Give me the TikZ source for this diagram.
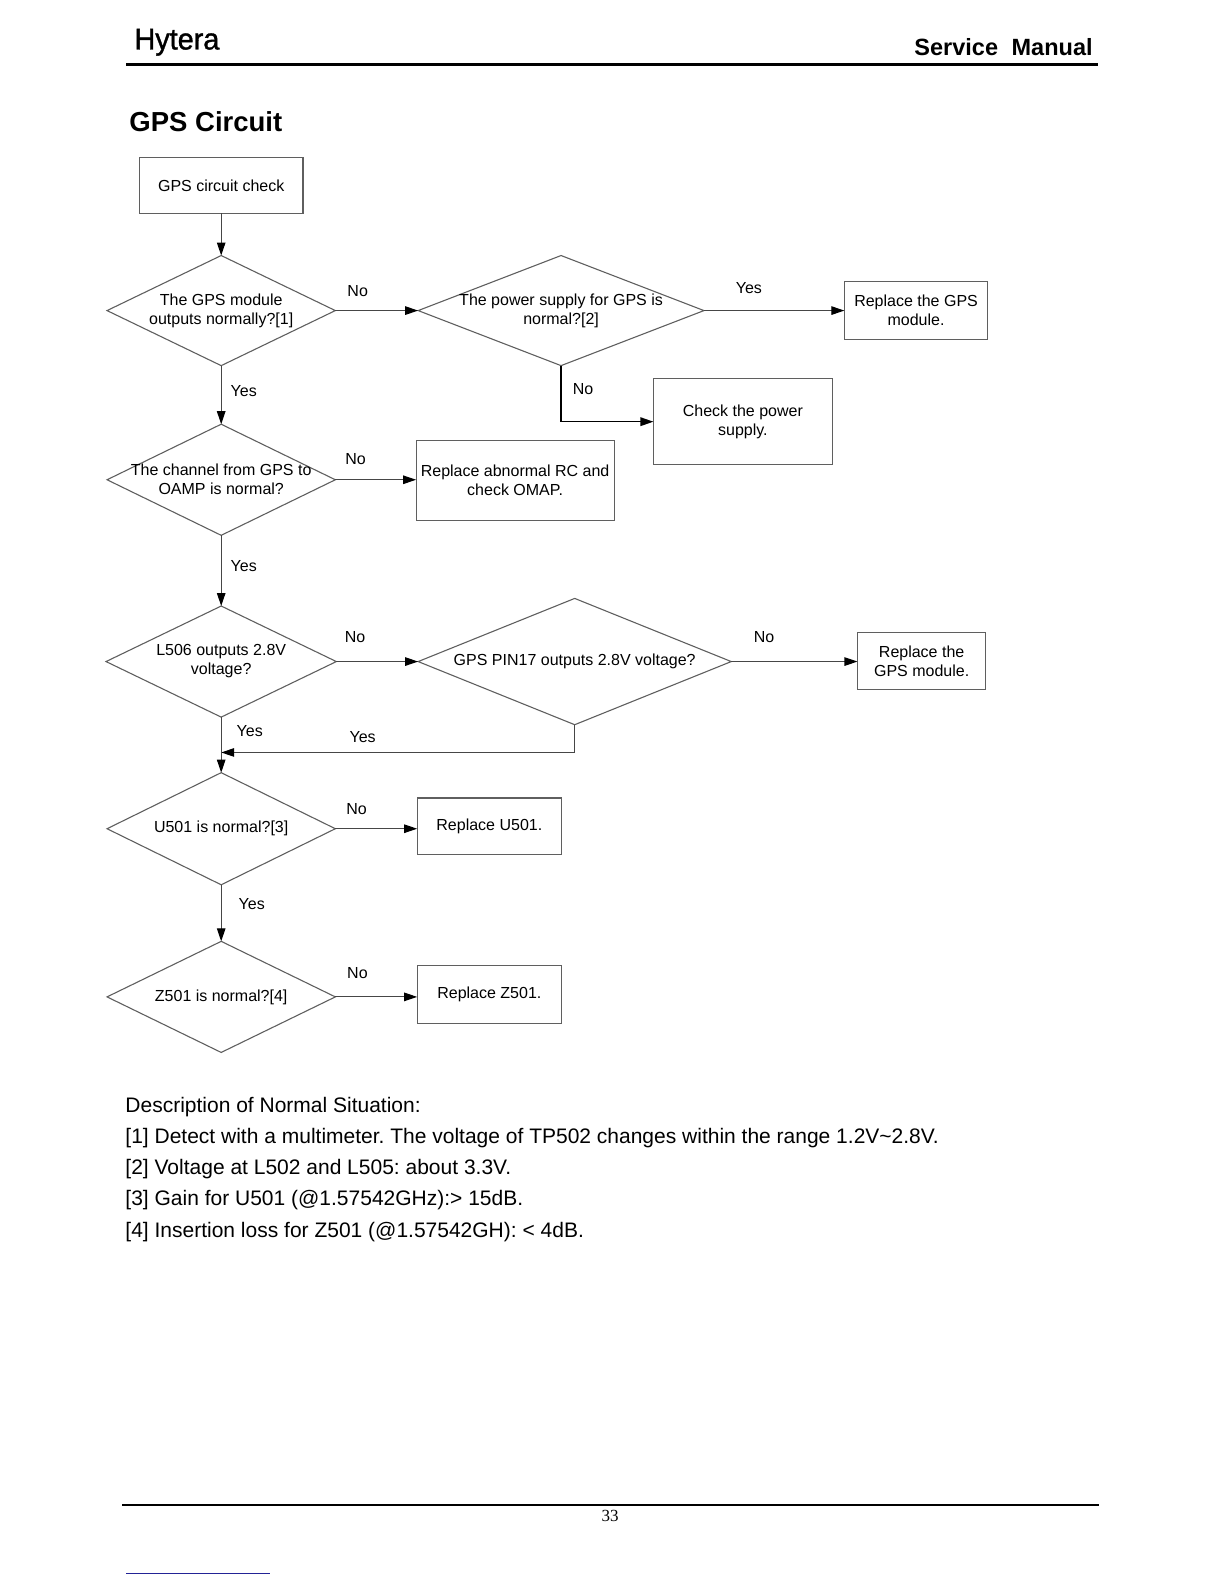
\documentclass[tikz,border=0pt]{standalone}
\usepackage{fontspec}
\setmainfont{Liberation Sans}
\newfontfamily\pagenofont{Liberation Serif}
\newfontfamily\brandfont[FakeBold=1.2,FakeStretch=0.96]{Liberation Sans}
\usetikzlibrary{shapes.geometric,arrows.meta}
\definecolor{linegray}{RGB}{70,70,70}
\definecolor{framegray}{RGB}{95,95,95}
\definecolor{rulenavy}{RGB}{35,35,150}
\newcommand\chartfont{\fontsize{16}{19}\selectfont}
\frenchspacing

\begin{document}
\begin{tikzpicture}[x=1.01pt,y=-1.01pt,
  checkbox/.style={draw=framegray,line width=1.2pt,inner sep=0pt,outer sep=0pt,align=center,font=\chartfont},
  decision/.style={diamond,draw=framegray,line width=1.1pt,inner sep=0pt,outer sep=0pt},
  question/.style={align=center,font=\chartfont,inner sep=0pt},
  flow/.style={draw=linegray,line width=1.1pt,-{Triangle[length=13pt,width=8.5pt,color=black]}},
  answer/.style={font=\chartfont,inner sep=1pt},
  notetext/.style={anchor=base west,inner sep=0pt,font=\fontsize{21}{21}\selectfont}]
        \useasboundingbox (0,0) rectangle (1211.9,1568.3);

        % Header
        \node[anchor=base west,inner sep=0pt,font=\brandfont\fontsize{30}{30}\selectfont] (brand) at (133,49) {Hytera};
        \node[anchor=base east,inner sep=0pt,font=\fontsize{23.5}{23.5}\selectfont\bfseries] (manual) at (1082,55) {Service\hspace{0.3em} Manual};
        \draw[line width=3pt] (125,64) -- (1087,64);
        \node[anchor=base west,inner sep=0pt,font=\fontsize{27.5}{27.5}\selectfont\bfseries] (title) at (128,130) {GPS Circuit};

        % Main column
        \node[checkbox,minimum width=163.6pt,minimum height=55.6pt] (start) at (219,183.5) {GPS circuit check};
        \node[decision,minimum width=228.3pt,minimum height=110.1pt] (module) at (219,307.5) {};
        \node[question] (moduletxt) at (module) {The GPS module\\outputs normally?[1]};
        \node[decision,minimum width=228.3pt,minimum height=111.1pt] (channel) at (219,475) {};
        \node[question] (channeltxt) at (channel) {The channel from GPS to\\OAMP is normal?};
        \node[decision,minimum width=230.3pt,minimum height=111.1pt] (lsix) at (219,655) {};
        \node[question] (lsixtxt) at (lsix) {L506 outputs 2.8V\\voltage?};
        \node[decision,minimum width=228.3pt,minimum height=112.1pt] (ufive) at (219,820.5) {};
        \node[question] (ufivetxt) at (ufive) {U501 is normal?[3]};
        \node[decision,minimum width=228.3pt,minimum height=111.1pt] (zfive) at (219,987) {};
        \node[question] (zfivetxt) at (zfive) {Z501 is normal?[4]};

        % Second column
        \node[decision,minimum width=285.8pt,minimum height=110.1pt] (power) at (555.5,307.5) {};
        \node[question] (powertxt) at (power) {The power supply for GPS is\\normal?[2]};
        \node[checkbox,minimum width=198pt,minimum height=79.8pt] (rcomap) at (510,475.5) {Replace abnormal RC and\\check OMAP.};
        \node[decision,minimum width=313.1pt,minimum height=126.3pt] (pin) at (569,655) {};
        \node[question] (pintxt) at (pin) {GPS PIN17 outputs 2.8V voltage?};
        \node[checkbox,minimum width=144.4pt,minimum height=56.6pt] (repu) at (484.5,818) {Replace U501.};
        \node[checkbox,minimum width=144.4pt,minimum height=57.6pt] (repz) at (484.5,984.5) {Replace Z501.};

        % Right column
        \node[checkbox,minimum width=143.4pt,minimum height=57.6pt] (repgps) at (907,307.5) {Replace the GPS\\module.};
        \node[checkbox,minimum width=178.8pt,minimum height=85.9pt] (chkpow) at (735.5,417.5) {Check the power\\supply.};
        \node[checkbox,minimum width=128.3pt,minimum height=57.6pt] (repgpsb) at (912.5,654.5) {Replace the\\GPS module.};

        % Connectors
        \coordinate (back) at (219,745);
        \draw[flow] (start) -- (module);
        \draw[flow] (module.east) -- node[answer,pos=0.27,above=12pt] {No} (power.west);
        \draw[flow] (power.east) -- node[answer,pos=0.32,above=15pt] {Yes} (power.east -| repgps.west);
        \draw[flow,draw=black,line width=1.6pt] (power.south) |- node[answer,pos=0.21,right=10pt] {No} (chkpow.west);
        \draw[flow] (module.south) -- node[answer,pos=0.43,right=8pt] {Yes} (channel.north);
        \draw[flow] (channel.east) -- node[answer,pos=0.25,above=14pt] {No} (channel.east -| rcomap.west);
        \draw[flow] (channel.south) -- node[answer,pos=0.44,right=8pt] {Yes} (lsix.north);
        \draw[flow] (lsix.east) -- node[answer,pos=0.23,above=17pt] {No} (pin.west);
        \draw[flow] (pin.east) -- node[answer,pos=0.26,above=17pt] {No} (pin.east -| repgpsb.west);
        \draw[flow] (pin.south) |- node[answer,pos=0.8,above=8pt] {Yes} (back);
        \draw[flow] (lsix.south) -- node[answer,pos=0.25,right=14pt] {Yes} (ufive.north);
        \draw[flow] (ufive.east) -- node[answer,pos=0.26,above=13pt] {No} (ufive.east -| repu.west);
        \draw[flow] (ufive.south) -- node[answer,pos=0.34,right=16pt] {Yes} (zfive.north);
        \draw[flow] (zfive.east) -- node[answer,pos=0.27,above=17pt] {No} (zfive.east -| repz.west);

        % Notes
        \node[notetext] (notes) at (124,1101) {Description of Normal Situation:};
        \node[notetext] (noteone) at (124,1132) {[1] Detect with a multimeter. The voltage of TP502 changes within the range 1.2V\textasciitilde2.8V.};
        \node[notetext] (notetwo) at (124,1163) {[2] Voltage at L502 and L505: about 3.3V.};
        \node[notetext] (notethree) at (124,1194) {[3] Gain for U501 (@1.57542GHz):> 15dB.};
        \node[notetext] (notefour) at (124,1225) {[4] Insertion loss for Z501 (@1.57542GH): < 4dB.};

        % Footer
        \draw[line width=1.5pt] (121,1490) -- (1088,1490);
        \node[inner sep=0pt,font=\pagenofont\fontsize{17}{17}\selectfont] (pageno) at (604,1501) {33};
        \draw[rulenavy,line width=1.5pt] (125,1558) -- (267,1558);
    \end{tikzpicture}
\end{document}
